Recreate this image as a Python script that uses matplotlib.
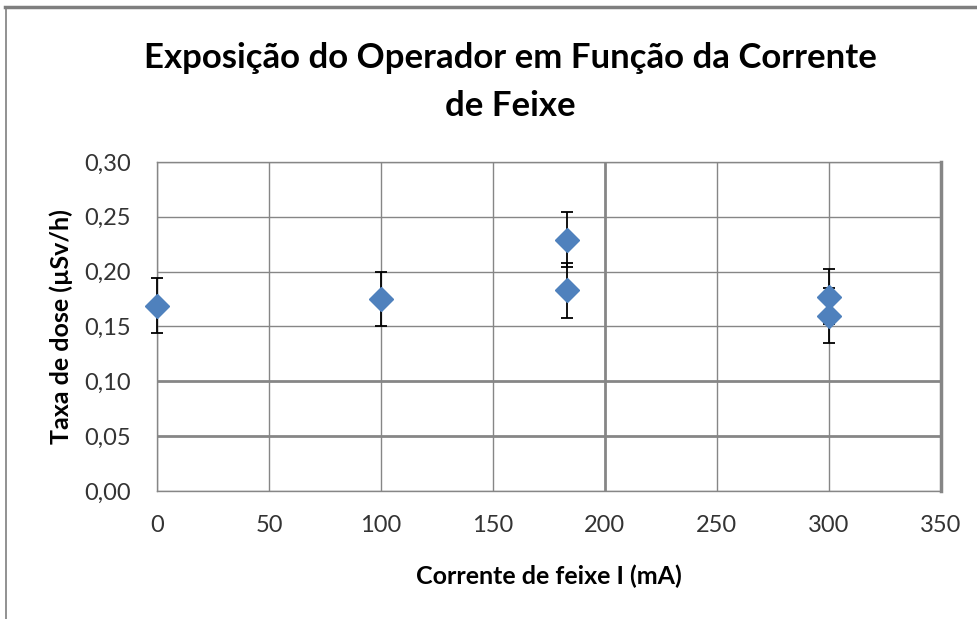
import numpy as np
import matplotlib
matplotlib.use('Agg')
import matplotlib.pyplot as plt
from matplotlib.lines import Line2D
from matplotlib.ticker import FuncFormatter

# data
corrente = [0, 100, 183, 183, 300, 300]
taxa_dose = [0.169, 0.175, 0.229, 0.183, 0.177, 0.160]
erro = [0.025, 0.025, 0.025, 0.025, 0.025, 0.025]

x_ticks = [0, 50, 100, 150, 200, 250, 300, 350]
y_ticks = [0.00, 0.05, 0.10, 0.15, 0.20, 0.25, 0.30]

plt.rcParams['font.family'] = ['Lato', 'DejaVu Sans']

fig = plt.figure(figsize=(9.78, 6.19), dpi=100)
ax = fig.add_axes([0.1605, 0.2068, 0.8015, 0.5315])

grid_col = '#868686'
for xv in x_ticks:
    lw = 2.0 if xv == 200 else 1.0
    ax.axvline(xv, color=grid_col, lw=lw, zorder=1)
for yv in y_ticks:
    lw = 2.0 if yv in (0.05, 0.10) else 1.0
    ax.axhline(yv, color=grid_col, lw=lw, zorder=1)

cont = ax.errorbar(corrente, taxa_dose, yerr=erro, fmt='D', color='#4F81BD',
                   markersize=12.5, markeredgecolor='#4F81BD',
                   ecolor='black', elinewidth=1.3, capsize=4.5, capthick=1.3,
                   zorder=3)
for art in cont.get_children():
    art.set_clip_on(False)

ax.set_xlim(0, 350)
ax.set_ylim(0, 0.30)
ax.set_xticks(x_ticks)
ax.set_yticks(y_ticks)
ax.yaxis.set_major_formatter(FuncFormatter(lambda v, p: f'{v:.2f}'.replace('.', ',')))
ax.tick_params(length=0, labelsize=17, colors='#333333')
ax.tick_params(axis='y', pad=19)
ax.tick_params(axis='x', pad=17)

for s in ['left', 'bottom', 'top']:
    ax.spines[s].set_color(grid_col)
    ax.spines[s].set_linewidth(1.0)
ax.spines['right'].set_color(grid_col)
ax.spines['right'].set_linewidth(2.5)

ax.set_xlabel('Corrente de feixe I (mA)', fontsize=18, fontweight='bold', labelpad=21)
ax.set_ylabel('Taxa de dose (µSv/h)', fontsize=18, fontweight='bold', labelpad=8)

fig.text(0.522, 0.867, 'Exposição do Operador em Função da Corrente\nde Feixe',
         ha='center', va='center', fontsize=25, fontweight='bold',
         linespacing=1.62)

# outer chart frame (top and left edges visible)
fig.add_artist(Line2D([5 / 978, 1], [1 - 7 / 619, 1 - 7 / 619],
                      transform=fig.transFigure, color='#7f7f7f', lw=2.5))
fig.add_artist(Line2D([6 / 978, 6 / 978], [0, 1 - 7 / 619],
                      transform=fig.transFigure, color='#7f7f7f', lw=1.2))

fig.savefig('out.png', dpi=100)
